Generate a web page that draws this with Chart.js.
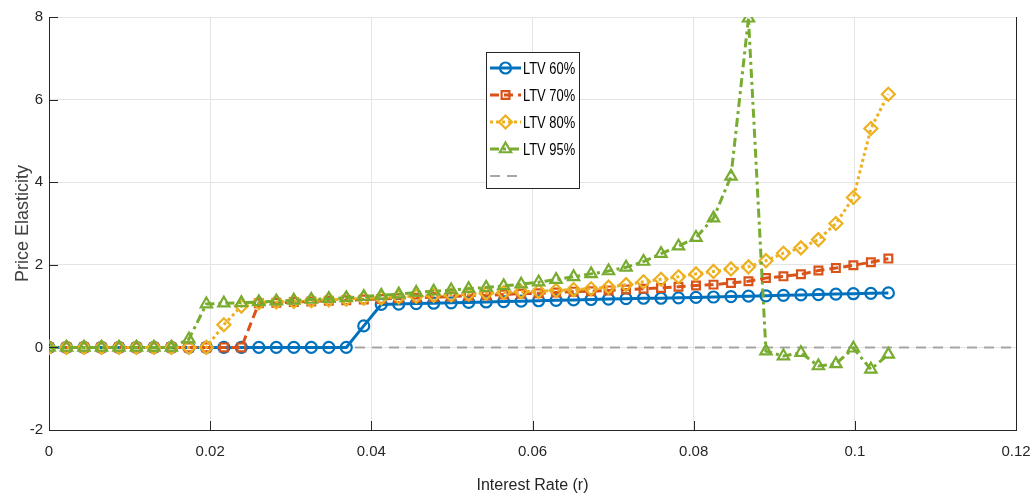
<!DOCTYPE html>
<html><head><meta charset="utf-8">
<script src="https://cdn.jsdelivr.net/npm/chart.js@4.4.1/dist/chart.umd.min.js"></script>
<style>html,body{margin:0;padding:0;background:#fff;overflow:hidden}#c{display:block}</style>
</head><body>
<canvas id="c" width="1034" height="499"></canvas>
<script>
// ---- data ----
const rates = [0, 0.00217, 0.00434, 0.00651, 0.00868, 0.01085, 0.01302, 0.01519, 0.01736, 0.01953,
  0.0217, 0.02387, 0.02604, 0.02821, 0.03038, 0.03255, 0.03472, 0.03689, 0.03906, 0.04123,
  0.0434, 0.04557, 0.04774, 0.04991, 0.05208, 0.05425, 0.05642, 0.05859, 0.06076, 0.06293,
  0.0651, 0.06727, 0.06944, 0.07161, 0.07378, 0.07595, 0.07812, 0.08029, 0.08246, 0.08463,
  0.0868, 0.08897, 0.09114, 0.09331, 0.09548, 0.09765, 0.09982, 0.10199, 0.10416];
const ltv60 = [0,0,0,0,0,0,0,0,0,0, 0,0,0,0,0,0,0,0,0.52,1.04,
  1.05,1.06,1.07,1.08,1.09,1.10,1.11,1.12,1.13,1.14,
  1.15,1.16,1.17,1.18,1.19,1.19,1.20,1.21,1.22,1.23,
  1.24,1.25,1.26,1.27,1.28,1.29,1.30,1.31,1.32];
const ltv70 = [0,0,0,0,0,0,0,0,0,0, 0,0,1.07,1.08,1.10,1.11,1.13,1.14,1.16,1.17,
  1.19,1.20,1.22,1.23,1.25,1.26,1.28,1.30,1.31,1.33,
  1.35,1.36,1.38,1.40,1.42,1.44,1.47,1.50,1.52,1.56,
  1.60,1.68,1.72,1.77,1.86,1.92,1.99,2.06,2.15];
const ltv80 = [0,0,0,0,0,0,0,0,0,0, 0.55,1.0,1.08,1.10,1.11,1.13,1.15,1.17,1.19,1.20,
  1.22,1.24,1.26,1.27,1.29,1.31,1.33,1.35,1.36,1.38,
  1.40,1.42,1.46,1.52,1.59,1.65,1.71,1.78,1.84,1.90,
  1.95,2.10,2.28,2.41,2.61,3.00,3.63,5.30,6.13];
const ltv95 = [0,0,0,0,0,0,0,0,0.2,1.05, 1.07,1.08,1.10,1.12,1.14,1.16,1.18,1.20,1.23,1.26,
  1.29,1.33,1.36,1.39,1.42,1.45,1.49,1.53,1.58,1.64,
  1.71,1.78,1.85,1.94,2.08,2.27,2.45,2.66,3.13,4.14,
  7.97,-0.09,-0.21,-0.13,-0.45,-0.40,-0.02,-0.53,-0.17];
const zeroLineX = [0, 0.12];
const zeroLineY = [0, 0];
const seriesNames = ['LTV 60%', 'LTV 70%', 'LTV 80%', 'LTV 95%', ''];
const xTickValues = [0, 0.02, 0.04, 0.06, 0.08, 0.1, 0.12];
const yTickValues = [-2, 0, 2, 4, 6, 8];
const xTitle = 'Interest Rate (r)';
const yTitle = 'Price Elasticity';

// ---- chart ----
const pts = (xs, ys) => xs.map((x, i) => ({x, y: ys[i]}));
const FONT = "'Liberation Sans', Arial, sans-serif";

const styles = [
  {color:'#0072BD', dash:[], style:'circle', r:5.5, order:3},
  {color:'#D95319', dash:[9,5], style:'rect', r:5.5, order:2},
  {color:'#EDB120', dash:[3,3], style:'rectRot', r:6.5, order:1},
  {color:'#77AC30', dash:[9,4,3,4], style:'triangle', r:6.5, order:0},
  {color:'#A6A6A6', dash:[10,7], style:false, r:0, order:10}
];
const seriesY = [ltv60, ltv70, ltv80, ltv95];

const datasets = seriesY.map((ys, i) => ({
  label: seriesNames[i],
  data: pts(rates, ys),
  borderColor: styles[i].color,
  backgroundColor: 'rgba(0,0,0,0)',
  borderWidth: 3,
  borderDash: styles[i].dash,
  borderCapStyle: 'butt',
  pointStyle: styles[i].style,
  pointRadius: styles[i].r,
  pointBorderWidth: 2.2,
  pointBackgroundColor: 'rgba(255,255,255,0)',
  pointBorderColor: styles[i].color,
  showLine: true,
  tension: 0,
  order: styles[i].order
}));
datasets.push({
  label: seriesNames[4],
  data: pts(zeroLineX, zeroLineY),
  borderColor: styles[4].color,
  borderWidth: 2,
  borderDash: styles[4].dash,
  pointRadius: 0,
  showLine: true,
  order: styles[4].order
});

function drawMarker(ctx, st, x, y) {
  const r = st.r;
  ctx.save();
  ctx.setLineDash([]);
  ctx.lineWidth = 2.2;
  ctx.strokeStyle = st.color;
  ctx.beginPath();
  if (st.style === 'circle') ctx.arc(x, y, r, 0, Math.PI * 2);
  else if (st.style === 'rect') { const s = r * Math.SQRT1_2; ctx.rect(x - s, y - s, 2 * s, 2 * s); }
  else if (st.style === 'rectRot') { ctx.moveTo(x, y - r); ctx.lineTo(x + r, y); ctx.lineTo(x, y + r); ctx.lineTo(x - r, y); ctx.closePath(); }
  else if (st.style === 'triangle') { ctx.moveTo(x, y - r); ctx.lineTo(x + r * 0.866, y + r * 0.5); ctx.lineTo(x - r * 0.866, y + r * 0.5); ctx.closePath(); }
  else { ctx.restore(); return; }
  ctx.stroke();
  ctx.restore();
}

const decor = {
  id: 'decor',
  afterDraw(chart) {
    const ctx = chart.ctx;
    const {left, right, top, bottom} = chart.chartArea;
    const xs = chart.scales.x, ys = chart.scales.y;
    ctx.save();
    // inward tick marks
    ctx.strokeStyle = '#262626';
    ctx.lineWidth = 1;
    ctx.setLineDash([]);
    xTickValues.forEach(v => {
      const px = Math.round(xs.getPixelForValue(v)) + 0.5;
      ctx.beginPath(); ctx.moveTo(px, bottom); ctx.lineTo(px, bottom - 9); ctx.stroke();
    });
    yTickValues.forEach(v => {
      const py = Math.round(ys.getPixelForValue(v)) + 0.5;
      ctx.beginPath(); ctx.moveTo(left, py); ctx.lineTo(left + 9, py); ctx.stroke();
    });
    // right border
    ctx.beginPath(); ctx.moveTo(Math.round(right) + 0.5, top); ctx.lineTo(Math.round(right) + 0.5, bottom); ctx.stroke();
    // legend box
    const bx = 486.5, by = 52.5, bw = 93, bh = 136;
    ctx.fillStyle = '#fff';
    ctx.fillRect(bx, by, bw, bh);
    ctx.strokeStyle = '#262626';
    ctx.strokeRect(bx, by, bw, bh);
    for (let i = 0; i < 5; i++) {
      const st = styles[i];
      const y = 68 + i * 27;
      ctx.save();
      ctx.strokeStyle = st.color;
      ctx.lineWidth = i === 4 ? 2 : 3;
      ctx.lineCap = 'butt';
      ctx.setLineDash(i === 4 ? [10, 7] : st.dash);
      ctx.beginPath(); ctx.moveTo(490, y); ctx.lineTo(i === 4 ? 517 : 521, y); ctx.stroke();
      ctx.restore();
      drawMarker(ctx, st, 505.5, y);
      ctx.save();
      ctx.fillStyle = '#000';
      ctx.font = "17px " + FONT;
      ctx.textBaseline = 'middle';
      ctx.textAlign = 'left';
      ctx.translate(523, y + 1);
      ctx.scale(0.76, 1);
      ctx.fillText(seriesNames[i], 0, 0);
      ctx.restore();
    }
    ctx.restore();
  }
};

new Chart(document.getElementById('c'), {
  type: 'scatter',
  data: { datasets },
  options: {
    responsive: false,
    animation: false,
    events: [],
    layout: { padding: { top: 17, right: 18, left: 0, bottom: 0 } },
    plugins: { legend: { display: false }, tooltip: { enabled: false } },
    scales: {
      x: {
        type: 'linear', min: 0, max: 0.12,
        afterBuildTicks: s => { s.ticks = xTickValues.map(v => ({value: v})); },
        afterFit: s => { s.height = 69; s.paddingRight = 0; s.paddingLeft = 0; },
        ticks: { callback: v => String(+(+v).toFixed(2)), color: '#262626', padding: 13,
                 font: { family: FONT, size: 15 }, maxRotation: 0, autoSkip: false },
        grid: { color: '#e4e4e4', lineWidth: 1, drawTicks: false },
        border: { display: true, color: '#262626', width: 1 },
        title: { display: true, text: xTitle, color: '#262626', font: { family: FONT, size: 16 }, padding: { top: 2 } }
      },
      y: {
        type: 'linear', min: -2, max: 8,
        afterBuildTicks: s => { s.ticks = yTickValues.map(v => ({value: v})); },
        afterFit: s => { s.width = 49; },
        ticks: { color: '#262626', padding: 6, font: { family: FONT, size: 15 } },
        grid: { color: '#e4e4e4', lineWidth: 1, drawTicks: false },
        border: { display: true, color: '#262626', width: 1 },
        title: { display: true, text: yTitle, color: '#404040', font: { family: FONT, size: 18 }, padding: { top: 12, bottom: 0 } }
      }
    }
  },
  plugins: [decor]
});
</script>
</body></html>
